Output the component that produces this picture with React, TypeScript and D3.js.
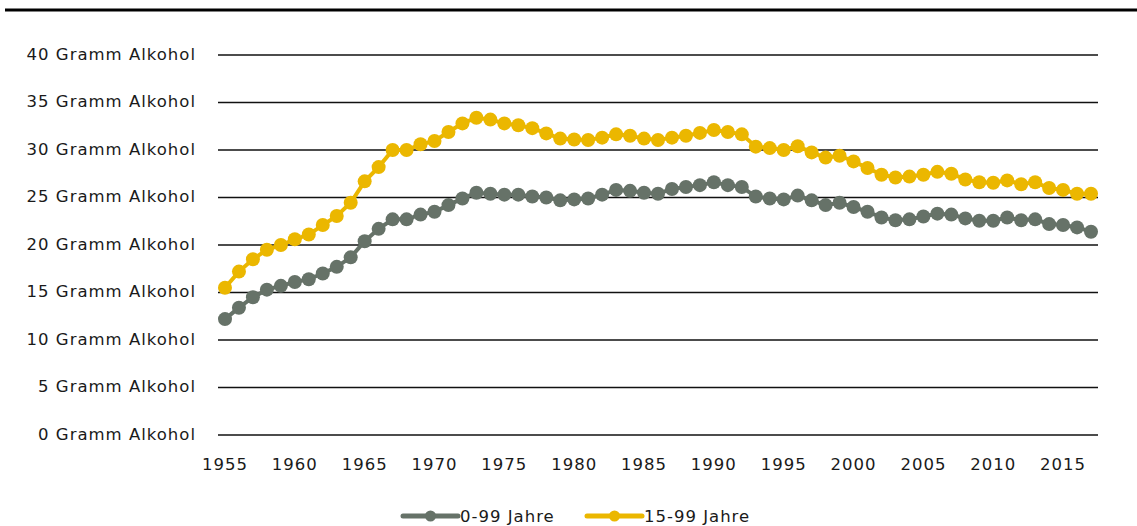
import React from "react";
import * as d3 from "d3";

const years: number[] = d3.range(1955, 2018);

const series0to99: number[] = [
  12.2, 13.4, 14.5, 15.3, 15.7, 16.1, 16.4, 17.0, 17.7, 18.7,
  20.4, 21.7, 22.7, 22.7, 23.2, 23.5, 24.2, 24.9, 25.5, 25.4,
  25.3, 25.3, 25.1, 25.0, 24.7, 24.8, 24.9, 25.3, 25.8, 25.7,
  25.5, 25.4, 25.9, 26.1, 26.3, 26.6, 26.3, 26.1, 25.1, 24.9,
  24.8, 25.2, 24.7, 24.2, 24.45, 24.0, 23.5, 22.9, 22.6, 22.7,
  23.0, 23.3, 23.2, 22.8, 22.55, 22.55, 22.9, 22.6, 22.7, 22.2,
  22.1, 21.85, 21.4,
];

const series15to99: number[] = [
  15.5, 17.2, 18.5, 19.5, 20.0, 20.6, 21.1, 22.1, 23.05, 24.45,
  26.7, 28.2, 30.0, 30.0, 30.6, 30.95, 31.9, 32.8, 33.4, 33.2,
  32.8, 32.6, 32.3, 31.75, 31.2, 31.1, 31.05, 31.3, 31.65, 31.5,
  31.2, 31.05, 31.3, 31.5, 31.8, 32.1, 31.9, 31.65, 30.35, 30.2,
  30.0, 30.4, 29.75, 29.2, 29.4, 28.8, 28.1, 27.4, 27.1, 27.2,
  27.4, 27.7, 27.5, 26.9, 26.6, 26.55, 26.8, 26.4, 26.6, 26.0,
  25.8, 25.4, 25.4,
];

const yTicks: number[] = [0, 5, 10, 15, 20, 25, 30, 35, 40];
const xTickYears: number[] = [1955, 1960, 1965, 1970, 1975, 1980, 1985, 1990, 1995, 2000, 2005, 2010, 2015];
const seriesNames: string[] = ["0-99 Jahre", "15-99 Jahre"];
const seriesColors: string[] = ["#667268", "#EBB700"];

const W = 1137;
const H = 526;
const FONT = "'DejaVu Sans', Verdana, sans-serif";
const FS = 16.5;
const LS = 1.0;

export default function App() {
  const x = d3.scaleBand<number>().domain(years).range([218, 1098]).padding(0);
  const cx = (yr: number) => (x(yr) as number) + x.bandwidth() / 2;
  const y = d3.scaleLinear().domain([0, 40]).range([435, 55]);

  const line = d3
    .line<number>()
    .x((_, i) => cx(years[i]))
    .y((d) => y(d));

  const allSeries = [series0to99, series15to99];

  return (
    <svg
      width={W}
      height={H}
      style={{ position: "absolute", left: 0, top: 0, background: "#fff" }}
      fontFamily={FONT}
    >
      <rect x={0} y={0} width={W} height={H} fill="#fff" />
      <line x1={5} x2={W} y1={10} y2={10} stroke="#000" strokeWidth={3} />

      {yTicks.map((t) => (
        <g key={t}>
          <line x1={218} x2={1098} y1={y(t)} y2={y(t)} stroke="#111" strokeWidth={1.6} />
          <text
            x={196}
            y={y(t) + 4.5}
            textAnchor="end"
            fontSize={FS}
            letterSpacing={LS}
            fill="#1a1a1a"
          >
            {`${t} Gramm Alkohol`}
          </text>
        </g>
      ))}

      {xTickYears.map((yr) => (
        <text
          key={yr}
          x={cx(yr)}
          y={470}
          textAnchor="middle"
          fontSize={FS}
          letterSpacing={LS}
          fill="#1a1a1a"
        >
          {yr}
        </text>
      ))}

      {allSeries.map((s, si) => (
        <g key={si}>
          <path d={line(s) || ""} fill="none" stroke={seriesColors[si]} strokeWidth={4} />
          {s.map((v, i) => (
            <circle key={i} cx={cx(years[i])} cy={y(v)} r={7} fill={seriesColors[si]} />
          ))}
        </g>
      ))}

      {seriesNames.map((name, si) => {
        const lx = si === 0 ? 403 : 587;
        return (
          <g key={name}>
            <line x1={lx} x2={lx + 55} y1={516} y2={516} stroke={seriesColors[si]} strokeWidth={5} strokeLinecap="round" />
            <circle cx={lx + 27.5} cy={516} r={5.5} fill={seriesColors[si]} />
            <text x={lx + 57} y={522} fontSize={FS} letterSpacing={LS} fill="#1a1a1a">
              {name}
            </text>
          </g>
        );
      })}
    </svg>
  );
}
